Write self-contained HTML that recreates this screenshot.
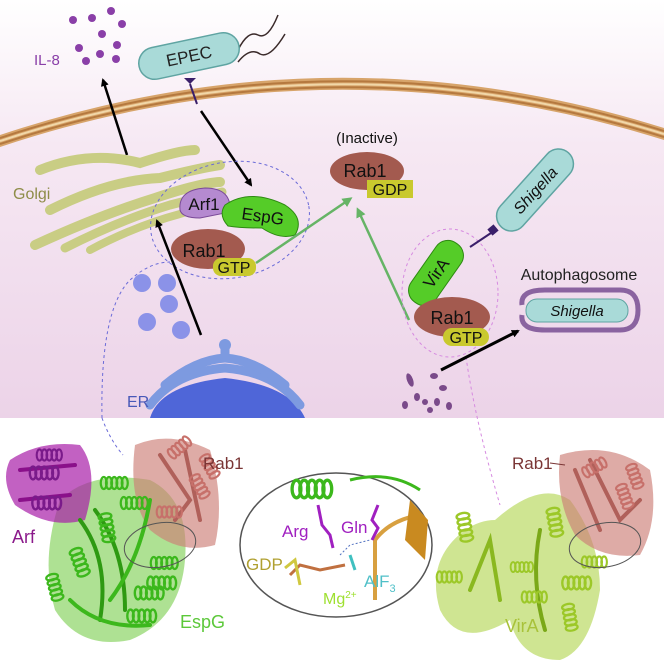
<!DOCTYPE html>
<html><head><meta charset="utf-8"><style>
html,body{margin:0;padding:0;background:#fff}
svg{display:block}
text{font-family:"Liberation Sans",Arial,sans-serif}
</style></head><body>
<svg width="664" height="663" viewBox="0 0 664 663" xmlns="http://www.w3.org/2000/svg">
<defs>
<linearGradient id="bg" x1="0" y1="0" x2="0" y2="1">
<stop offset="0" stop-color="#ffffff"/><stop offset="0.35" stop-color="#f6e8f3"/><stop offset="1" stop-color="#ecd3e8"/>
</linearGradient>
<marker id="ab" markerWidth="8" markerHeight="8" refX="6" refY="4" orient="auto" markerUnits="userSpaceOnUse"><path d="M0,0 L8,4 L0,8 z" fill="#000"/></marker>
<marker id="ag" markerWidth="10" markerHeight="10" refX="7" refY="5" orient="auto" markerUnits="userSpaceOnUse"><path d="M0,0 L10,5 L0,10 z" fill="#66b466"/></marker>
<symbol id="hx" viewBox="0 0 40 20" overflow="visible">
<g fill="none" stroke="currentColor" stroke-width="3">
<ellipse cx="5" cy="10" rx="4" ry="8"/><ellipse cx="12" cy="10" rx="4" ry="8"/><ellipse cx="19" cy="10" rx="4" ry="8"/><ellipse cx="26" cy="10" rx="4" ry="8"/><ellipse cx="33" cy="10" rx="4" ry="8"/>
</g></symbol>
</defs>
<rect width="664" height="418" fill="url(#bg)"/>
<!-- membrane -->
<path d="M0,135 Q332,24 664,128 L664,140 Q332,36 0,147 Z" fill="#d7a46a"/>
<path d="M0,138 Q332,28 664,131" fill="none" stroke="#b5793f" stroke-width="2"/>
<path d="M0,144 Q332,34 664,137" fill="none" stroke="#b5793f" stroke-width="2"/>
<path d="M0,141 Q332,31 664,134" fill="none" stroke="#f1d7a8" stroke-width="2"/>
<!-- IL-8 -->
<text x="34" y="65" font-size="15" fill="#8a3fa8">IL-8</text>
<g fill="#8a3fa8">
<circle cx="111" cy="11" r="4"/><circle cx="73" cy="20" r="4"/><circle cx="92" cy="18" r="4"/><circle cx="122" cy="24" r="4"/><circle cx="102" cy="34" r="4"/><circle cx="79" cy="48" r="4"/><circle cx="117" cy="45" r="4"/><circle cx="100" cy="54" r="4"/><circle cx="86" cy="61" r="4"/><circle cx="116" cy="59" r="4"/>
</g>
<!-- EPEC -->
<path d="M238,50 q10,-20 20,-15 q10,5 20,-20" fill="none" stroke="#3a2a2a" stroke-width="1.5"/>
<path d="M238,62 q12,-15 22,-8 q10,5 25,-20" fill="none" stroke="#3a2a2a" stroke-width="1.5"/>
<rect x="138" y="40" width="102" height="32" rx="16" fill="#a9dad8" stroke="#5fa4a2" stroke-width="1.5" transform="rotate(-12 189 56)"/>
<text x="189" y="62" font-size="17" text-anchor="middle" fill="#222" transform="rotate(-12 189 56)">EPEC</text>
<path d="M184,78 L196,78 L190,84 Z" fill="#3a1f6a"/>
<line x1="190" y1="84" x2="197" y2="104" stroke="#3a1f6a" stroke-width="2"/>
<line x1="201" y1="111" x2="251" y2="185" stroke="#000" stroke-width="2.5" marker-end="url(#ab)"/>
<line x1="127" y1="155" x2="103" y2="80" stroke="#000" stroke-width="2.5" marker-end="url(#ab)"/>
<!-- Golgi -->
<g fill="none" stroke="#c9cd84" stroke-linecap="round">
<path d="M40,170 Q90,150 140,163 Q180,150 195,150" stroke-width="10"/>
<path d="M50,210 Q110,180 160,178 Q200,168 220,165" stroke-width="10"/>
<path d="M35,245 Q100,215 155,198 Q200,183 220,182" stroke-width="10"/>
<path d="M65,248 Q120,220 170,205 Q205,196 222,192" stroke-width="9"/>
<path d="M90,250 Q135,226 180,214 Q205,206 220,204" stroke-width="8"/>
</g>
<text x="13" y="199" font-size="16" fill="#8e8c48">Golgi</text>
<!-- Blue dashed ellipse -->
<ellipse cx="230" cy="220" rx="80" ry="58" fill="none" stroke="#6a6ad8" stroke-width="1" stroke-dasharray="3,3" transform="rotate(-10 230 220)"/>
<path d="M102,418 Q100,310 130,280 Q150,262 170,262" fill="none" stroke="#6a6ad8" stroke-width="1" stroke-dasharray="3,3"/>
<path d="M102,418 Q110,440 123,455" fill="none" stroke="#6a6ad8" stroke-width="1" stroke-dasharray="3,3"/>
<!-- vesicles -->
<g fill="#8b92e8"><circle cx="142" cy="283" r="9"/><circle cx="167" cy="283" r="9"/><circle cx="169" cy="304" r="9"/><circle cx="147" cy="322" r="9"/><circle cx="181" cy="330" r="9"/></g>
<line x1="201" y1="335" x2="157" y2="221" stroke="#000" stroke-width="2.5" marker-end="url(#ab)"/>
<!-- ER -->
<path d="M150,418 Q160,385 225,378 Q290,385 305,418 Z" fill="#4f66d8"/>
<g fill="none" stroke="#7d9ae0" stroke-width="9" stroke-linecap="round">
<path d="M150,405 Q175,372 225,368 Q275,372 300,405"/>
<path d="M165,385 Q195,360 225,358"/><path d="M285,385 Q255,360 225,358"/>
<path d="M225,358 L225,346"/>
</g>
<circle cx="225" cy="345" r="6" fill="#7d9ae0"/>
<text x="127" y="407" font-size="16" fill="#4858b8">ER</text>
<!-- Arf1/EspG/Rab1 -->
<path d="M180,210 Q178,190 205,188 Q232,188 230,212 L200,218 Q182,218 180,210Z" fill="#b58ad0" stroke="#7a4a98"/>
<text x="204" y="210" font-size="17" text-anchor="middle" fill="#111">Arf1</text>
<path d="M225,205 Q250,188 285,205 Q305,218 295,235 Q280,240 262,228 Q240,228 228,226 Q218,215 225,205Z" fill="#55cc28" stroke="#2e8a12"/>
<text x="262" y="222" font-size="17" text-anchor="middle" fill="#111" transform="rotate(8 262 222)">EspG</text>
<ellipse cx="208" cy="249" rx="37" ry="20" fill="#a35a4f"/>
<text x="204" y="257" font-size="18" text-anchor="middle" fill="#111">Rab1</text>
<rect x="213" y="258" width="43" height="18" rx="8" fill="#c9c92e"/>
<text x="234" y="273" font-size="16" text-anchor="middle" fill="#111">GTP</text>
<line x1="256" y1="263" x2="350" y2="199" stroke="#66b466" stroke-width="2.5" marker-end="url(#ag)"/>
<!-- inactive -->
<text x="367" y="143" font-size="15" text-anchor="middle" fill="#111">(Inactive)</text>
<ellipse cx="367" cy="171" rx="37" ry="19" fill="#a35a4f"/>
<text x="365" y="177" font-size="18" text-anchor="middle" fill="#111">Rab1</text>
<rect x="367" y="180" width="46" height="18" fill="#c9c92e"/>
<text x="390" y="195" font-size="16" text-anchor="middle" fill="#111">GDP</text>
<line x1="409" y1="320" x2="358" y2="210" stroke="#66b466" stroke-width="2.5" marker-end="url(#ag)"/>
<!-- pink dashed -->
<ellipse cx="450" cy="293" rx="48" ry="64" fill="none" stroke="#d68ae0" stroke-width="1" stroke-dasharray="3,3"/>
<path d="M466,357 Q475,420 500,505" fill="none" stroke="#d68ae0" stroke-width="1" stroke-dasharray="3,3"/>
<!-- Shigella -->
<line x1="470" y1="247" x2="494" y2="231" stroke="#3a1f6a" stroke-width="2"/>
<rect x="485" y="175" width="100" height="30" rx="15" fill="#a9dad8" stroke="#5fa4a2" stroke-width="1.5" transform="rotate(-48 535 190)"/>
<text x="535" y="196" font-size="16" font-style="italic" text-anchor="middle" fill="#111" transform="rotate(-48 535 190)">Shigella</text>
<rect x="489" y="226" width="8" height="8" fill="#3a1f6a" transform="rotate(-40 493 230)"/>
<!-- VirA -->
<rect x="400" y="258" width="72" height="30" rx="14" fill="#55cc28" stroke="#2e8a12" transform="rotate(-55 436 273)"/>
<text x="436" y="279" font-size="17" text-anchor="middle" fill="#111" transform="rotate(-55 436 273)">VirA</text>
<ellipse cx="452" cy="317" rx="38" ry="20" fill="#a35a4f"/>
<text x="452" y="324" font-size="18" text-anchor="middle" fill="#111">Rab1</text>
<rect x="443" y="328" width="46" height="18" rx="9" fill="#c9c92e"/>
<text x="466" y="343" font-size="16" text-anchor="middle" fill="#111">GTP</text>
<!-- Autophagosome -->
<text x="579" y="280" font-size="16" text-anchor="middle" fill="#222">Autophagosome</text>
<path d="M522,305 Q520,290 545,290 L620,290 Q638,290 638,310 Q638,330 620,330 L545,330 Q520,330 522,315" fill="none" stroke="#8a63a0" stroke-width="5"/>
<rect x="526" y="299" width="102" height="23" rx="11" fill="#a9dad8" stroke="#5fa4a2"/>
<text x="577" y="316" font-size="15" font-style="italic" text-anchor="middle" fill="#111">Shigella</text>
<line x1="441" y1="370" x2="518" y2="331" stroke="#000" stroke-width="3" marker-end="url(#ab)"/>
<g fill="#7a4a8a"><ellipse cx="410" cy="380" rx="3" ry="7" transform="rotate(-20 410 380)"/><ellipse cx="434" cy="376" rx="4" ry="3"/><ellipse cx="443" cy="388" rx="4" ry="3"/><ellipse cx="417" cy="397" rx="3" ry="4"/><ellipse cx="405" cy="405" rx="3" ry="4"/><ellipse cx="425" cy="402" rx="3" ry="3"/><ellipse cx="437" cy="402" rx="3" ry="4"/><ellipse cx="449" cy="406" rx="3" ry="4"/><ellipse cx="430" cy="410" rx="3" ry="3"/></g>

<!-- Bottom structures -->
<g>
<path d="M60,500 Q90,470 150,480 Q190,500 185,560 Q180,620 130,640 Q80,650 55,610 Q40,560 60,500Z" fill="#6cc83a" opacity="0.55"/>
<path d="M10,460 Q40,440 80,445 Q100,470 85,520 Q50,530 15,505 Q0,480 10,460Z" fill="#a81ea8" opacity="0.7"/>
<path d="M135,445 Q170,430 210,450 Q225,500 215,545 Q180,555 150,530 Q128,500 135,445Z" fill="#cc7e76" opacity="0.65"/>
<path d="M495,520 Q540,480 570,500 Q600,540 600,590 Q590,650 560,660 Q520,660 510,620 Q460,650 440,610 Q425,560 465,530 Q480,520 495,520Z" fill="#a8d038" opacity="0.55"/>
<path d="M560,455 Q610,440 650,470 Q660,520 640,555 Q600,560 575,535 Q555,500 560,455Z" fill="#cc7e76" opacity="0.65"/>
</g>
<g fill="none" stroke-width="4" stroke-linecap="round">
<path d="M80,520 Q110,560 100,620" stroke="#2e9a12"/><path d="M95,510 Q125,550 125,610" stroke="#2e9a12"/>
<path d="M150,500 Q140,560 110,600" stroke="#3cb81c"/><path d="M70,600 Q100,630 150,625" stroke="#3cb81c"/>
<path d="M160,455 L190,500 L175,520" stroke="#b0605a"/><path d="M185,450 L200,520" stroke="#b0605a"/>
<path d="M20,470 L75,465" stroke="#8a108a"/><path d="M20,500 L70,495" stroke="#8a108a"/>
<path d="M470,590 L490,540 L500,600" stroke="#8ab820"/><path d="M540,530 Q530,580 545,630" stroke="#7aa818"/>
<path d="M590,460 L620,520 L640,500" stroke="#b0605a"/><path d="M575,470 L600,530" stroke="#b0605a"/>
</g>
<g color="#7a1a8a"><use href="#hx" x="15" y="465" width="60" height="16"/><use href="#hx" x="20" y="495" width="55" height="16"/><use href="#hx" x="30" y="448" width="40" height="14"/></g>
<g color="#3cb81c">
<use href="#hx" x="100" y="475" width="30" height="16"/><use href="#hx" x="60" y="555" width="40" height="16" transform="rotate(70 80 563)"/>
<use href="#hx" x="90" y="520" width="35" height="16" transform="rotate(80 107 528)"/><use href="#hx" x="130" y="585" width="40" height="16"/>
<use href="#hx" x="120" y="608" width="45" height="16"/><use href="#hx" x="150" y="555" width="30" height="16"/>
<use href="#hx" x="40" y="580" width="30" height="16" transform="rotate(75 55 588)"/>
<use href="#hx" x="145" y="575" width="35" height="16"/><use href="#hx" x="120" y="495" width="30" height="16"/>
</g>
<g color="#c7706a"><use href="#hx" x="160" y="440" width="40" height="14" transform="rotate(-40 180 447)"/><use href="#hx" x="180" y="480" width="40" height="14" transform="rotate(60 200 487)"/><use href="#hx" x="150" y="505" width="40" height="14"/><use href="#hx" x="195" y="460" width="30" height="14" transform="rotate(60 210 467)"/></g>
<ellipse cx="160" cy="545" rx="36" ry="22" fill="none" stroke="#555" transform="rotate(-10 160 545)"/>
<text x="203" y="469" font-size="17" fill="#7a3535">Rab1</text>
<text x="12" y="543" font-size="18" fill="#8b1a8b">Arf</text>
<text x="180" y="628" font-size="18" fill="#5cc83a">EspG</text>

<g color="#9cc828">
<use href="#hx" x="445" y="520" width="40" height="16" transform="rotate(80 465 528)"/><use href="#hx" x="430" y="570" width="40" height="14"/>
<use href="#hx" x="535" y="515" width="40" height="16" transform="rotate(80 555 523)"/><use href="#hx" x="560" y="575" width="35" height="16"/>
<use href="#hx" x="555" y="610" width="30" height="16" transform="rotate(80 570 618)"/><use href="#hx" x="510" y="560" width="25" height="14"/>
<use href="#hx" x="580" y="555" width="30" height="14"/><use href="#hx" x="520" y="590" width="30" height="14"/>
</g>
<g color="#c7706a"><use href="#hx" x="575" y="460" width="40" height="14" transform="rotate(-30 595 467)"/><use href="#hx" x="605" y="490" width="40" height="14" transform="rotate(70 625 497)"/><use href="#hx" x="620" y="470" width="30" height="14" transform="rotate(70 635 477)"/></g>
<ellipse cx="605" cy="545" rx="36" ry="22" fill="none" stroke="#555" transform="rotate(-10 605 545)"/>
<text x="512" y="469" font-size="17" fill="#7a3535">Rab1</text>
<line x1="550" y1="463" x2="565" y2="465" stroke="#7a3535"/>
<text x="505" y="632" font-size="18" fill="#a8c23a">VirA</text>

<!-- center oval -->
<ellipse cx="336" cy="545" rx="96" ry="72" fill="#fff" stroke="#555" stroke-width="1.5"/>
<g color="#3cb81c"><use href="#hx" x="278" y="478" width="70" height="22"/></g>
<path d="M350,480 Q390,470 420,490" fill="none" stroke="#3cb81c" stroke-width="3"/>
<path d="M375,600 L375,540 Q390,520 420,515" fill="none" stroke="#d8a040" stroke-width="4"/>
<path d="M410,500 L428,520 L425,560 L405,540Z" fill="#c98a20"/>
<g fill="none" stroke-width="3">
<path d="M318,505 L322,525 L330,535 L333,548" stroke="#a020c0"/>
<path d="M378,505 L372,520 L378,528 L372,540" stroke="#a020c0"/>
<path d="M290,575 L300,565 L320,570 L345,565" stroke="#c07040"/>
<path d="M285,568 L295,560 L300,585" stroke="#d0c840"/>
</g>
<path d="M340,555 L350,545 L370,540" fill="none" stroke="#5070c0" stroke-dasharray="2,2"/>
<line x1="350" y1="555" x2="355" y2="570" stroke="#40c0c0" stroke-width="3"/>
<text x="282" y="537" font-size="17" fill="#a020c0">Arg</text>
<text x="341" y="533" font-size="17" fill="#a020c0">Gln</text>
<text x="246" y="570" font-size="17" fill="#b0a030">GDP</text>
<text x="323" y="604" font-size="16" fill="#9ee030">Mg<tspan font-size="10" dy="-6">2+</tspan></text>
<text x="364" y="587" font-size="17" fill="#50c0c8">AlF<tspan font-size="11" dy="5">3</tspan></text>
</svg>
</body></html>
